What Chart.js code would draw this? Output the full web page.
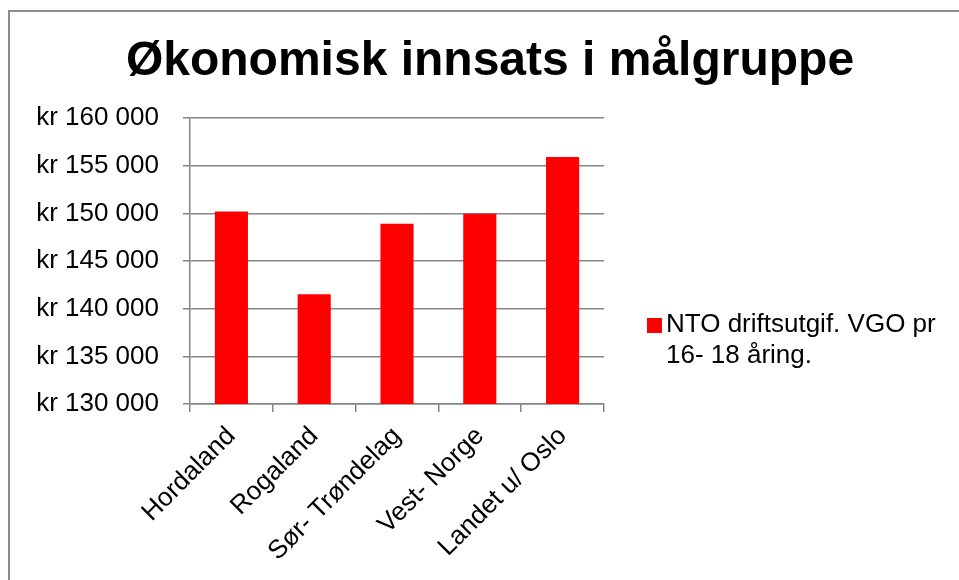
<!DOCTYPE html>
<html>
<head>
<meta charset="utf-8">
<script src="https://cdn.jsdelivr.net/npm/chart.js@4"></script>
<style>
  body { margin: 0; background: #fff; }
  #ramme { position: absolute; left: 8px; top: 10px; width: 1000px; height: 1000px;
           border-left: 2px solid #8c8c8c; border-top: 2px solid #8c8c8c; }
  #malChart { position: absolute; left: 0; top: 0; }
</style>
</head>
<body>
<div id="ramme"></div>
<canvas id="malChart" width="959" height="580"></canvas>
<script>
const tittel = "Økonomisk innsats i målgruppe";
const regioner = ["Hordaland", "Rogaland", "Sør- Trøndelag", "Vest- Norge", "Landet u/ Oslo"];
const utgifter = [150200, 141500, 148900, 149950, 155900];
const serieNavn = ["NTO driftsutgif. VGO pr", "16- 18 åring."];
const yMin = 130000, yMax = 160000, ySteg = 5000;

const font = "'Liberation Sans', Arial, sans-serif";
const rod = "#ff0000";
const gra = "#868686";

// tittel og forklaring tegnes selv, så plottet havner riktig
const ekstraTekst = {
  id: "ekstraTekst",
  afterDraw(chart) {
    const c = chart.ctx;
    c.save();
    c.fillStyle = "#000";
    c.font = "bold 48px " + font;
    c.textAlign = "center";
    c.textBaseline = "alphabetic";
    c.fillText(tittel, 490, 75);

    c.fillStyle = chart.data.datasets[0].backgroundColor;
    c.fillRect(647, 318, 15, 15);
    c.fillStyle = "#000";
    c.font = "26px " + font;
    c.textAlign = "left";
    serieNavn.forEach((linje, i) => c.fillText(linje, 666, 332 + i * 31));
    c.restore();
  }
};

const ctx = document.getElementById("malChart").getContext("2d");
new Chart(ctx, {
  type: "bar",
  data: {
    labels: regioner,
    datasets: [{ label: serieNavn.join(" "), data: utgifter, backgroundColor: rod,
                 barPercentage: 0.8, categoryPercentage: 0.5 }]
  },
  options: {
    responsive: false,
    animation: false,
    layout: { padding: { top: 118, right: 355, left: 0, bottom: 0 } },
    plugins: { legend: { display: false }, title: { display: false }, tooltip: { enabled: false } },
    scales: {
      x: {
        afterFit: s => { s.height = 176; },
        grid: { drawOnChartArea: false, drawTicks: true, tickLength: 8, color: gra, lineWidth: 1.5, offset: true },
        border: { color: gra, width: 1.5 },
        ticks: { color: "#000", font: { family: font, size: 26 }, maxRotation: 45, minRotation: 45, padding: 9, autoSkip: false }
      },
      y: {
        min: yMin, max: yMax,
        afterFit: s => { s.width = 190; },
        grid: { color: gra, lineWidth: 1.5, tickLength: 7 },
        border: { color: gra, width: 1.5 },
        ticks: {
          stepSize: ySteg, color: "#000", font: { family: font, size: 26 }, padding: 24,
          callback: v => "kr " + String(v).replace(/\B(?=(\d{3})+(?!\d))/g, " ")
        }
      }
    }
  },
  plugins: [ekstraTekst]
});
</script>
</body>
</html>
